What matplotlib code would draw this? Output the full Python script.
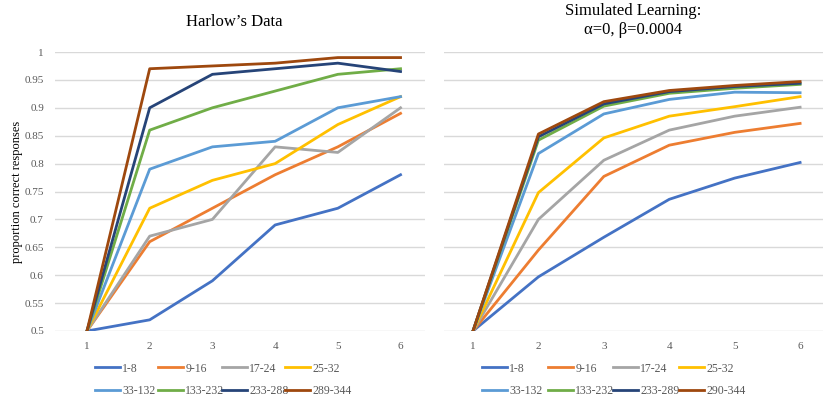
import numpy as np
import matplotlib.pyplot as plt

plt.rcParams['font.family'] = ['Liberation Serif', 'DejaVu Serif']

trials = [1, 2, 3, 4, 5, 6]
colors = ['#4472C4', '#ED7D31', '#A5A5A5', '#FFC000',
          '#5B9BD5', '#70AD47', '#264478', '#9E480E']

# Harlow's data
harlow_labels = ['1-8', '9-16', '17-24', '25-32',
                 '33-132', '133-232', '233-288', '289-344']
harlow = [
    [0.50, 0.52, 0.59, 0.69, 0.72, 0.78],
    [0.50, 0.66, 0.72, 0.78, 0.83, 0.89],
    [0.50, 0.67, 0.70, 0.83, 0.82, 0.90],
    [0.50, 0.72, 0.77, 0.80, 0.87, 0.92],
    [0.50, 0.79, 0.83, 0.84, 0.90, 0.92],
    [0.50, 0.86, 0.90, 0.93, 0.96, 0.97],
    [0.50, 0.90, 0.96, 0.97, 0.98, 0.965],
    [0.50, 0.97, 0.975, 0.98, 0.99, 0.99],
]

# Simulated learning
sim_labels = ['1-8', '9-16', '17-24', '25-32',
              '33-132', '133-232', '233-289', '290-344']
simulated = [
    [0.50, 0.597, 0.668, 0.736, 0.774, 0.802],
    [0.50, 0.645, 0.777, 0.833, 0.856, 0.872],
    [0.50, 0.700, 0.806, 0.860, 0.885, 0.901],
    [0.50, 0.748, 0.846, 0.885, 0.902, 0.920],
    [0.50, 0.818, 0.889, 0.915, 0.928, 0.927],
    [0.50, 0.842, 0.903, 0.926, 0.935, 0.942],
    [0.50, 0.848, 0.907, 0.929, 0.938, 0.944],
    [0.50, 0.853, 0.911, 0.931, 0.940, 0.947],
]

yticks = np.arange(0.5, 1.0001, 0.05)
ytick_labels = ['0.5', '0.55', '0.6', '0.65', '0.7', '0.75',
                '0.8', '0.85', '0.9', '0.95', '1']

W, H = 823, 403


def style_axes(ax, xlim, show_y):
    for s in ax.spines.values():
        s.set_visible(False)
    ax.set_xlim(*xlim)
    ax.set_ylim(0.5, 1.0)
    ax.set_yticks(yticks)
    ax.set_xticks(trials)
    ax.grid(axis='y', color='#D9D9D9', linewidth=1)
    ax.set_axisbelow(True)
    ax.tick_params(length=0, labelsize=8, labelcolor='#595959', pad=8)
    if show_y:
        ax.set_yticklabels(ytick_labels)
    else:
        ax.set_yticklabels([])


def draw(fig, ax, data, labels, col_x):
    lines = []
    for vals, lab, c in zip(data, labels, colors):
        ln, = ax.plot(trials, vals, color=c, lw=2, label=lab)
        lines.append(ln)
    # fixed-width legend columns, two rows each
    for k, x in enumerate(col_x):
        fig.legend([lines[k], lines[k + 4]], [labels[k], labels[k + 4]],
                   loc='upper left', bbox_to_anchor=(x / W, 0.1003),
                   frameon=False, fontsize=8.5, handlelength=2.1,
                   handletextpad=0.2, labelspacing=0.87,
                   borderpad=0, borderaxespad=0, labelcolor='#595959')


fig = plt.figure(figsize=(W / 100, H / 100), dpi=100)
ax1 = fig.add_axes([55 / W, 72 / H, 370 / W, 279 / H])
ax2 = fig.add_axes([444 / W, 72 / H, 379 / W, 279 / H])

draw(fig, ax1, harlow, harlow_labels, [95, 158, 222, 285])
style_axes(ax1, (0.49, 6.39), True)
ax1.set_title("Harlow\u2019s Data", fontsize=12, pad=19, x=0.485)
ax1.set_ylabel('proportion correct responses', fontsize=9, labelpad=1)

draw(fig, ax2, simulated, sim_labels, [482, 548, 613, 679])
style_axes(ax2, (0.557, 6.35), False)
ax2.set_title('Simulated Learning:\n\u03b1=0, \u03b2=0.0004', fontsize=12,
              pad=13, linespacing=1.25)

fig.savefig('out.png', dpi=100)
